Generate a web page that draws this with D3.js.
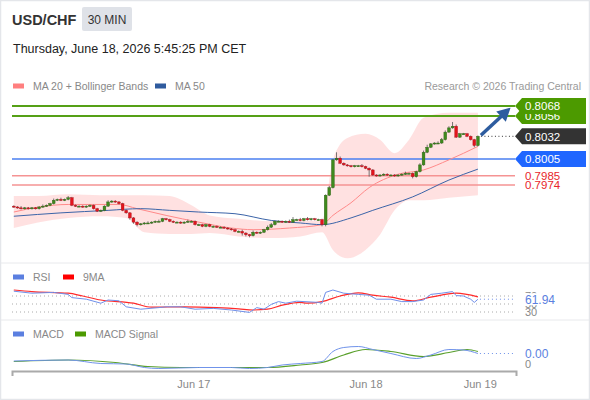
<!DOCTYPE html>
<html>
<head>
<meta charset="utf-8">
<script src="https://cdn.jsdelivr.net/npm/d3@7"></script>
<style>
body{margin:0;background:#fff}
svg{display:block;font-family:"Liberation Sans",Arial,sans-serif}
</style>
</head>
<body>
<svg id="chart"></svg>
<script>
// 30 min candles, USD/CHF
var firstOpen = 0.7949
var closes = [
0.7948,0.7947,0.7946,0.7947,0.7946,0.7947,0.7946,0.7948,0.7949,0.7950,
0.7952,0.7956,0.7957,0.7956,0.7957,0.7959,0.7950,0.7949,0.7949,0.7948,
0.7949,0.7950,0.7946,0.7943,0.7944,0.7949,0.7954,0.7955,0.7954,0.7952,
0.7944,0.7941,0.7935,0.7930,0.7927,0.7928,0.7929,0.7929,0.7930,0.7931,
0.7931,0.7934,0.7933,0.7931,0.7930,0.7930,0.7929,0.7930,0.7931,0.7931,
0.7927,0.7927,0.7925,0.7927,0.7925,0.7925,0.7924,0.7924,0.7923,0.7922,
0.7921,0.7919,0.7919,0.7917,0.7915,0.7914,0.7918,0.7917,0.7918,0.7921,
0.7924,0.7927,0.7931,0.7931,0.7930,0.7931,0.7930,0.7933,0.7933,0.7932,
0.7934,0.7933,0.7934,0.7933,0.7933,0.7927,0.7962,0.7971,0.8004,0.8006,
0.8000,0.7998,0.7997,0.7996,0.7997,0.7997,0.7996,0.7994,0.7992,0.7986,
0.7985,0.7986,0.7987,0.7986,0.7986,0.7985,0.7986,0.7987,0.7988,0.7988,
0.7984,0.7990,0.7998,0.8013,0.8019,0.8023,0.8024,0.8024,0.8028,0.8037,
0.8042,0.8044,0.8031,0.8035,0.8035,0.8032,0.8028,0.8021,0.8032]
// wick lengths in pips above / below the body
var wickHi = [
1,1,2,1,1,1,1,1,2,1, 1,2,1,2,1,2,1,1,1,1, 1,1,1,1,1,1,2,1,1,1,
1,1,1,1,1,1,1,2,1,1, 2,1,1,1,1,1,1,1,2,1, 1,1,1,1,1,1,1,1,1,1,
1,1,1,2,1,1,2,1,1,1, 2,2,1,1,1,1,2,3,1,2, 1,2,1,1,1,1,1,2,1,7,
2,1,1,1,1,1,2,1,1,1, 1,1,1,1,1,1,1,1,2,1, 1,1,2,2,3,1,1,2,2,2,
2,5,2,1,1,1,1,1,1]
var wickLo = [
1,1,1,1,1,1,1,1,1,1, 1,1,1,1,1,1,1,1,1,1, 1,1,1,1,1,1,1,1,1,1,
1,1,2,2,2,1,1,1,1,1, 1,1,1,1,1,1,1,1,1,1, 1,1,1,1,1,1,1,1,1,1,
1,1,1,3,2,2,1,1,1,1, 1,1,1,1,1,1,1,1,1,1, 1,1,1,1,1,2,2,1,1,1,
1,1,1,1,1,1,1,1,8,1, 1,1,1,1,1,1,1,1,1,1, 2,1,1,1,1,1,1,1,1,1,
1,1,1,1,1,1,1,2,1]

var ma20Idx = [0,7,15,22,29,34,42,51,60,66,76,85,88,93,98,106,113,120,128]
var ma20Val = [0.7942,0.7948,0.7951,0.7951,0.7951,0.7946,0.7938,0.7930,0.7923,0.7921,0.7923,0.7927,0.7938,0.7953,0.7971,0.7987,0.7992,0.8004,0.8020]
var ma50Idx = [0,13,26,35,43,51,61,71,79,85,93,99,110,120,128]
var ma50Val = [0.7937,0.7941,0.7944,0.7946,0.7944,0.7942,0.7940,0.7932,0.7929,0.7927,0.7935,0.7944,0.7960,0.7980,0.7993]
var bbIdx = [0,7,15,24,31,36,43,49,54,62,71,79,85,88,92,97,101,105,109,113,120,128]
var bbUpper = [0.7961,0.7961,0.7963,0.7962,0.7962,0.7962,0.7961,0.7950,0.7938,0.7934,0.7931,0.7932,0.7932,0.8004,0.8030,0.8035,0.8028,0.8012,0.8028,0.8054,0.8060,0.8060]
var bbLower = [0.7923,0.7930,0.7935,0.7937,0.7935,0.7918,0.7916,0.7916,0.7917,0.7913,0.7911,0.7913,0.7918,0.7897,0.7887,0.7897,0.7915,0.7944,0.7956,0.7956,0.7959,0.7962]

var levelValues = [0.8068,0.8056,0.8005,0.7985,0.7974]
var levelKinds = ["resistance","resistance","pivot","support","support"]
var targetLevel = 0.8068

var rsiIdx = [0,5,11,15,16,20,24,26,29,31,35,40,42,46,50,55,60,65,67,69,71,73,75,78,84,85,86,88,91,95,98,100,104,107,110,113,115,118,121,122,124,126,127,128]
var rsiVal = [82,77,79,74,66,62,52,60,58,43,37,41,43,43,37,39,35,29,41,37,49,56,52,57,54,52,79,85,77,74,72,62,62,56,56,60,74,77,81,71,70,62,54,61.94]
var rsiMaIdx = [0,5,15,19,24,33,38,47,56,62,66,70,74,79,81,85,90,95,99,104,110,115,122,128]
var rsiMaVal = [85,81,77,70,60,52,42,43,41,38,35,37,47,54,52,56,70,78,72,67,58,67,77,68]
var rsiLevels = [70,50,30]

var macdIdx = [0,15,24,31,36,40,51,60,65,70,74,79,85,88,91,95,99,104,111,115,120,124,128]
var macdVal = [0.00006,0.00008,0.00001,0,-0.00007,-0.00009,-0.00007,-0.00007,-0.00009,-0.00007,-0.00002,0.00001,0.00005,0.00025,0.00033,0.00035,0.00029,0.00021,0.00011,0.00018,0.00029,0.00028,0.00021]
var signalIdx = [0,15,28,37,46,60,70,79,85,91,97,104,113,120,125,128]
var signalVal = [0.00005,0.00008,0.00003,-0.00005,-0.00007,-0.00007,-0.00007,-0.00002,0.00003,0.00018,0.00029,0.00025,0.00015,0.00023,0.00029,0.00025]

var dateTicks = [49.5,97,128.5]
var dateLabels = ["Jun 17","Jun 18","Jun 19"]

var pip = 0.0001
var screen = {width:590, height:400}
var labelX = 515

var svg = d3.select("#chart")
    .attr("width",screen.width)
    .attr("height",screen.height)

var xScale = d3.scaleLinear().domain([-0.5,138.5]).range([12,516])
var yScale = d3.scaleLinear().domain([0.788,0.809]).range([264.2,87.5])
var rsiScale = d3.scaleLinear().domain([30,70]).range([312,296])
var macdScale = d3.scaleLinear().domain([0,0.0001]).range([364,359])

var green = "#4c9a00"
var levelStyle = {
    resistance:{line:"#55a016", width:2, box:"#4c9a00", text:"#fff"},
    pivot:{line:"#4a7ff0", width:1.5, box:"#1f66ff", text:"#fff"},
    support:{line:"#f59393", width:1.5, box:null, text:"#e8262b"}
}

var drawFrame = function()
{
    svg.append("rect")
        .attr("x",0.5).attr("y",0.5)
        .attr("width",screen.width-1).attr("height",screen.height-1)
        .attr("fill","#fff").attr("stroke","#e4e6ea").attr("stroke-width",1.5)
    ;[263,320].forEach(function(y){
        svg.append("line")
            .attr("x1",1).attr("x2",screen.width-1)
            .attr("y1",y).attr("y2",y)
            .attr("stroke","#e8e9ec")
    })
}

var drawHeader = function()
{
    svg.append("text").attr("x",12).attr("y",25)
        .attr("font-size",14.5).attr("font-weight","bold").attr("fill","#333")
        .text("USD/CHF")
    svg.append("rect").attr("x",82).attr("y",7).attr("width",50).attr("height",24)
        .attr("rx",2).attr("fill","#dfe2e8")
    svg.append("text").attr("x",107).attr("y",23.5).attr("text-anchor","middle")
        .attr("font-size",12).attr("fill","#333").text("30 MIN")
    svg.append("text").attr("x",13).attr("y",53)
        .attr("font-size",12.5).attr("fill","#222")
        .text("Thursday, June 18, 2026 5:45:25 PM CET")
    svg.append("text").attr("x",581).attr("y",90).attr("text-anchor","end")
        .attr("font-size",10.5).attr("fill","#9a9a9a")
        .text("Research \u00a9 2026 Trading Central")
}

var drawLegend = function(y, items)
{
    var g = svg.append("g")
    items.forEach(function(item){
        g.append("rect").attr("x",item.x).attr("y",y-2.5)
            .attr("width",11).attr("height",5).attr("fill",item.color)
        g.append("text").attr("x",item.x+20).attr("y",y+4)
            .attr("font-size",10.5).attr("fill","#888").text(item.label)
    })
}

var pairs = function(idx, val)
{
    return d3.zip(idx, val)
}

var drawPrice = function()
{
    var g = svg.append("g").classed("price",true)

    var band = d3.area()
        .x(function(d){return xScale(d[0])})
        .y0(function(d){return yScale(d[2])})
        .y1(function(d){return yScale(d[1])})
        .curve(d3.curveMonotoneX)
    g.append("path")
        .datum(d3.zip(bbIdx,bbUpper,bbLower))
        .attr("d",band)
        .attr("fill","#ffdcdc")
        .attr("opacity",0.85)

    // support / resistance lines
    g.selectAll("line.level")
        .data(levelValues)
        .enter()
        .append("line")
        .classed("level",true)
        .attr("x1",xScale.range()[0]).attr("x2",labelX)
        .attr("y1",function(d){return yScale(d)})
        .attr("y2",function(d){return yScale(d)})
        .attr("stroke",function(d,i){return levelStyle[levelKinds[i]].line})
        .attr("stroke-width",function(d,i){return levelStyle[levelKinds[i]].width})

    var line = d3.line()
        .x(function(d){return xScale(d[0])})
        .y(function(d){return yScale(d[1])})
        .curve(d3.curveMonotoneX)
    g.append("path").datum(pairs(ma20Idx,ma20Val)).attr("d",line)
        .attr("fill","none").attr("stroke","#ff8a8a").attr("stroke-width",1)
    g.append("path").datum(pairs(ma50Idx,ma50Val)).attr("d",line)
        .attr("fill","none").attr("stroke","#3b64a8").attr("stroke-width",1)

    var candles = closes.map(function(c,i){
        var o = i==0 ? firstOpen : closes[i-1]
        return {i:i, o:o, c:c,
            h:Math.max(o,c)+wickHi[i]*pip,
            l:Math.min(o,c)-wickLo[i]*pip}
    })
    var cg = g.selectAll("g.candle")
        .data(candles)
        .enter()
        .append("g")
        .classed("candle",true)
    cg.append("line")
        .attr("x1",function(d){return xScale(d.i)})
        .attr("x2",function(d){return xScale(d.i)})
        .attr("y1",function(d){return yScale(d.h)})
        .attr("y2",function(d){return yScale(d.l)})
        .attr("stroke","#555").attr("stroke-width",0.8)
    cg.append("rect")
        .attr("x",function(d){return xScale(d.i)-1.4})
        .attr("width",2.8)
        .attr("y",function(d){return yScale(Math.max(d.o,d.c))})
        .attr("height",function(d){return Math.max(yScale(Math.min(d.o,d.c))-yScale(Math.max(d.o,d.c)),1)})
        .attr("fill",function(d){return d.c>=d.o ? "#3f8a1c" : "#e3141c"})
        .attr("stroke",function(d){return d.c>=d.o ? "#2c5e16" : "#a8101a"})
        .attr("stroke-width",0.4)

    // current price dotted line
    var last = closes.length-1
    var lastClose = closes[last]
    g.append("line")
        .attr("x1",xScale(last)+3).attr("x2",labelX)
        .attr("y1",yScale(lastClose)).attr("y2",yScale(lastClose))
        .attr("stroke","#333").attr("stroke-dasharray","1,2.5")

    // forecast arrow
    var x0 = xScale(last)+3, y0 = yScale(lastClose)-1
    var x1 = xScale(137), y1 = yScale(targetLevel-0.0002)
    var ang = Math.atan2(y1-y0, x1-x0)
    var head = 13
    var bx = x1-head*Math.cos(ang), by = y1-head*Math.sin(ang)
    g.append("line")
        .attr("x1",x0).attr("y1",y0).attr("x2",bx+2*Math.cos(ang)).attr("y2",by+2*Math.sin(ang))
        .attr("stroke","#2d5c9f").attr("stroke-width",3.5)
    g.append("path")
        .attr("d","M"+x1+","+y1+
            "L"+(bx+7*Math.sin(ang))+","+(by-7*Math.cos(ang))+
            "L"+(bx-7*Math.sin(ang))+","+(by+7*Math.cos(ang))+"Z")
        .attr("fill","#2d5c9f")

    // right side price labels, lower levels first so the top box covers
    var tags = levelValues.map(function(v,i){return {v:v, kind:levelKinds[i]}})
    tags.push({v:lastClose, kind:"last"})
    var order = [4,3,2,5,1,0]
    order.forEach(function(k){
        var t = tags[k]
        var y = yScale(t.v)
        var st = t.kind=="last" ? {box:"#333", text:"#fff"} : levelStyle[t.kind]
        if (st.box)
        {
            g.append("path")
                .attr("d","M"+labelX+","+y+"L"+(labelX+7)+","+(y-8)+"L"+(labelX+71)+","+(y-8)+
                    "L"+(labelX+71)+","+(y+8)+"L"+(labelX+7)+","+(y+8)+"Z")
                .attr("fill",st.box)
        }
        g.append("text")
            .attr("x",labelX+10).attr("y",y+4.3)
            .attr("font-size",11.5).attr("fill",st.text)
            .text(t.v.toFixed(4))
    })
}

var drawRsi = function()
{
    var g = svg.append("g").classed("rsi",true)
    g.selectAll("line.lvl")
        .data(rsiLevels)
        .enter()
        .append("line")
        .attr("x1",xScale.range()[0]).attr("x2",labelX)
        .attr("y1",function(d){return rsiScale(d)})
        .attr("y2",function(d){return rsiScale(d)})
        .attr("stroke","#aaa").attr("stroke-dasharray","1,3")
    g.selectAll("text.lvl")
        .data(rsiLevels)
        .enter()
        .append("text")
        .attr("x",labelX+10).attr("y",function(d){return rsiScale(d)+4})
        .attr("font-size",11).attr("fill","#888")
        .text(function(d){return d})

    var line = d3.line()
        .x(function(d){return xScale(d[0])})
        .y(function(d){return rsiScale(d[1])})
    g.append("path").datum(pairs(rsiMaIdx,rsiMaVal))
        .attr("d",line.curve(d3.curveMonotoneX))
        .attr("fill","none").attr("stroke","#ff2a2a").attr("stroke-width",1.2)
    g.append("path").datum(pairs(rsiIdx,rsiVal))
        .attr("d",line.curve(d3.curveLinear))
        .attr("fill","none").attr("stroke","#6f8fea").attr("stroke-width",1)

    var lastRsi = rsiVal[rsiVal.length-1]
    var yl = rsiScale(lastRsi)
    g.append("line")
        .attr("x1",xScale(rsiIdx[rsiIdx.length-1])+2).attr("x2",labelX)
        .attr("y1",yl).attr("y2",yl)
        .attr("stroke","#6f8fea").attr("stroke-dasharray","1,3")
    g.append("rect").attr("x",labelX+8).attr("y",yl-6).attr("width",36).attr("height",12).attr("fill","#fff")
    g.append("text").attr("x",labelX+10).attr("y",yl+4.5)
        .attr("font-size",12).attr("fill","#5b7fe0")
        .text(lastRsi.toFixed(2))
}

var drawMacd = function()
{
    var g = svg.append("g").classed("macd",true)
    var line = d3.line()
        .x(function(d){return xScale(d[0])})
        .y(function(d){return macdScale(d[1])})
        .curve(d3.curveMonotoneX)
    g.append("path").datum(pairs(signalIdx,signalVal)).attr("d",line)
        .attr("fill","none").attr("stroke","#5aa02c").attr("stroke-width",1.2)
    g.append("path").datum(pairs(macdIdx,macdVal)).attr("d",line)
        .attr("fill","none").attr("stroke","#7093ea").attr("stroke-width",1)

    var lastMacd = macdVal[macdVal.length-1]
    var yl = macdScale(lastMacd)
    g.append("line")
        .attr("x1",xScale(macdIdx[macdIdx.length-1])+2).attr("x2",labelX)
        .attr("y1",yl).attr("y2",yl)
        .attr("stroke","#7093ea").attr("stroke-dasharray","1,3")
    g.append("text").attr("x",labelX+10).attr("y",yl+4.5)
        .attr("font-size",12).attr("fill","#5b7fe0")
        .text(lastMacd.toFixed(2))
    g.append("text").attr("x",labelX+10).attr("y",macdScale(0)+4)
        .attr("font-size",11).attr("fill","#888")
        .text("0")
}

var drawAxis = function()
{
    var xAxis = d3.axisBottom(xScale)
        .tickValues(dateTicks)
        .tickFormat(function(d,i){return dateLabels[i]})
        .tickSizeInner(0)
        .tickSizeOuter(5)
        .tickPadding(9)
    var ax = svg.append("g")
        .attr("transform","translate(0,371)")
        .call(xAxis)
    ax.select(".domain").attr("stroke","#aaa").attr("stroke-width",2)
    ax.selectAll("text").attr("fill","#888").attr("font-size",11)
        .attr("font-family","'Liberation Sans',Arial,sans-serif")
}

drawFrame()
drawHeader()
drawLegend(86,[{x:13,color:"#ff7f7f",label:"MA 20 + Bollinger Bands"},{x:155,color:"#2f5b9e",label:"MA 50"}])
drawLegend(277,[{x:13,color:"#5b7fe0",label:"RSI"},{x:63,color:"#f00",label:"9MA"}])
drawLegend(334,[{x:13,color:"#5b7fe0",label:"MACD"},{x:75,color:"#4c9a00",label:"MACD Signal"}])
drawPrice()
drawRsi()
drawMacd()
drawAxis()
</script>
</body>
</html>
